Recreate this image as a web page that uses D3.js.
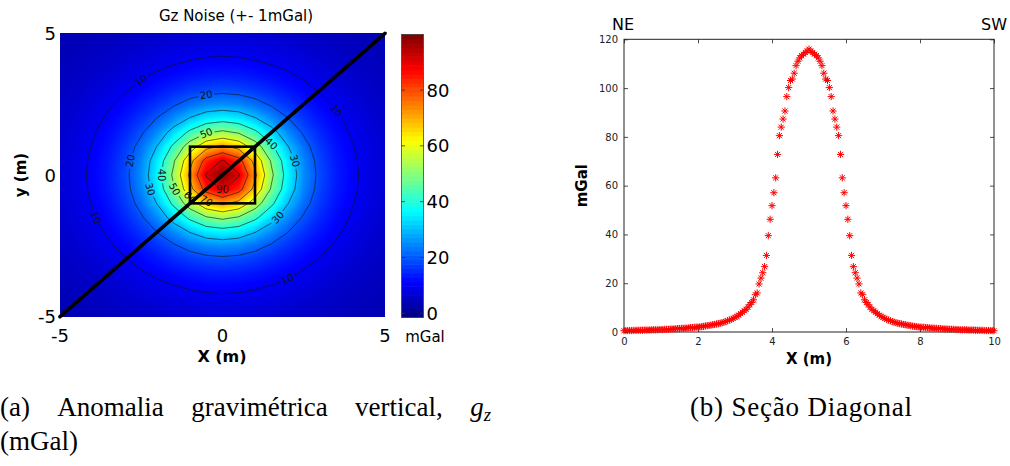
<!DOCTYPE html>
<html>
<head>
<meta charset="utf-8">
<script src="https://cdn.jsdelivr.net/npm/d3@7"></script>
<style>
  body { margin: 0; background: #fff; }
  svg { display: block; }
  .sans { font-family: "DejaVu Sans", sans-serif; }
  .serif { font-family: "Liberation Serif", "Times New Roman", serif; }
</style>
</head>
<body>
<svg id="fig" width="1010" height="466"></svg>
<script>
// ---------------- data ----------------
// Gz grid (mGal), 0.5 m spacing; rows run from y = 5 (top) to y = -5, columns from x = -5 to 5
const gridX = d3.range(-5, 5.001, 0.5);
const gridY = d3.range(5, -5.001, -0.5);
const gzRows = [
  [3.6,4.0,4.3,4.7,5.1,5.5,6.0,6.3,6.6,6.8,6.9,6.8,6.6,6.3,6.0,5.5,5.1,4.7,4.3,4.0,3.6],
  [4.0,4.4,4.8,5.3,5.9,6.5,7.1,7.7,8.1,8.4,8.5,8.4,8.1,7.7,7.1,6.5,5.9,5.3,4.8,4.4,4.0],
  [4.3,4.8,5.4,6.1,6.9,7.8,8.7,9.5,10.2,10.7,10.9,10.7,10.2,9.5,8.7,7.8,6.9,6.1,5.4,4.8,4.3],
  [4.7,5.3,6.1,7.0,8.1,9.4,10.7,11.8,12.8,13.5,13.8,13.5,12.8,11.8,10.7,9.4,8.1,7.0,6.1,5.3,4.7],
  [5.1,5.9,6.9,8.1,9.6,11.3,13.0,14.9,16.6,17.8,18.3,17.8,16.6,14.9,13.0,11.3,9.6,8.1,6.9,5.9,5.1],
  [5.5,6.5,7.8,9.4,11.3,13.5,16.2,19.2,22.2,24.4,25.2,24.4,22.2,19.2,16.2,13.5,11.3,9.4,7.8,6.5,5.5],
  [6.0,7.1,8.7,10.7,13.0,16.2,20.3,25.2,30.5,34.7,36.3,34.7,30.5,25.2,20.3,16.2,13.0,10.7,8.7,7.1,6.0],
  [6.3,7.7,9.5,11.8,14.9,19.2,25.2,33.2,41.9,49.1,52.0,49.1,41.9,33.2,25.2,19.2,14.9,11.8,9.5,7.7,6.3],
  [6.6,8.1,10.2,12.8,16.6,22.2,30.5,41.9,55.2,67.0,71.9,67.0,55.2,41.9,30.5,22.2,16.6,12.8,10.2,8.1,6.6],
  [6.8,8.4,10.7,13.5,17.8,24.4,34.7,49.1,67.0,83.6,90.8,83.6,67.0,49.1,34.7,24.4,17.8,13.5,10.7,8.4,6.8],
  [6.9,8.5,10.9,13.8,18.3,25.2,36.3,52.0,71.9,90.8,99.0,90.8,71.9,52.0,36.3,25.2,18.3,13.8,10.9,8.5,6.9],
  [6.8,8.4,10.7,13.5,17.8,24.4,34.7,49.1,67.0,83.6,90.8,83.6,67.0,49.1,34.7,24.4,17.8,13.5,10.7,8.4,6.8],
  [6.6,8.1,10.2,12.8,16.6,22.2,30.5,41.9,55.2,67.0,71.9,67.0,55.2,41.9,30.5,22.2,16.6,12.8,10.2,8.1,6.6],
  [6.3,7.7,9.5,11.8,14.9,19.2,25.2,33.2,41.9,49.1,52.0,49.1,41.9,33.2,25.2,19.2,14.9,11.8,9.5,7.7,6.3],
  [6.0,7.1,8.7,10.7,13.0,16.2,20.3,25.2,30.5,34.7,36.3,34.7,30.5,25.2,20.3,16.2,13.0,10.7,8.7,7.1,6.0],
  [5.5,6.5,7.8,9.4,11.3,13.5,16.2,19.2,22.2,24.4,25.2,24.4,22.2,19.2,16.2,13.5,11.3,9.4,7.8,6.5,5.5],
  [5.1,5.9,6.9,8.1,9.6,11.3,13.0,14.9,16.6,17.8,18.3,17.8,16.6,14.9,13.0,11.3,9.6,8.1,6.9,5.9,5.1],
  [4.7,5.3,6.1,7.0,8.1,9.4,10.7,11.8,12.8,13.5,13.8,13.5,12.8,11.8,10.7,9.4,8.1,7.0,6.1,5.3,4.7],
  [4.3,4.8,5.4,6.1,6.9,7.8,8.7,9.5,10.2,10.7,10.9,10.7,10.2,9.5,8.7,7.8,6.9,6.1,5.4,4.8,4.3],
  [4.0,4.4,4.8,5.3,5.9,6.5,7.1,7.7,8.1,8.4,8.5,8.4,8.1,7.7,7.1,6.5,5.9,5.3,4.8,4.4,4.0],
  [3.6,4.0,4.3,4.7,5.1,5.5,6.0,6.3,6.6,6.8,6.9,6.8,6.6,6.3,6.0,5.5,5.1,4.7,4.3,4.0,3.6]
];
const contourLevels = [10, 20, 30, 40, 50, 60, 70, 80, 90];
// contour label anchors: [level, x (m), y (m)]
const contourLabels = [
  [10, -2.49, 3.06], [20, -0.39, 2.74], [50, -0.49, 1.35], [40, 1.46, 1.06],
  [10, 3.31, 2.06], [20, -2.74, 0.35], [40, -1.82, 0.06], [30, -2.28, -0.47],
  [30, 2.13, 0.35], [50, -1.46, -0.65], [90, -0.03, -0.59], [70, -0.69, -1.12],
  [10, -3.67, -1.41], [30, 2.08, -2.06], [10, 2.13, -3.77], [60, -0.85, -0.5]
];
const colorLimits = [-1.5, 99.9];
const colorTicks = [0, 20, 40, 60, 80];
const mapTicks = [-5, 0, 5];
const sourceBox = [[-1, -1], [1, 1]];
const sectionLine = [[-5, -5], [5, 5]];

// diagonal section, 0.05 m sampling
const sectionX = d3.range(0, 10.0001, 0.05);
const sectionGz = [
  0.5,0.6,0.6,0.6,0.6,0.6,0.7,0.7,0.7,0.7,
  0.7,0.8,0.8,0.8,0.8,0.9,0.9,0.9,0.9,1.0,
  1.0,1.0,1.1,1.1,1.1,1.2,1.2,1.3,1.3,1.4,
  1.4,1.5,1.5,1.6,1.6,1.7,1.8,1.8,1.9,2.0,
  2.0,2.1,2.2,2.3,2.5,2.6,2.7,2.8,3.0,3.1,
  3.3,3.4,3.6,3.8,4.0,4.3,4.6,4.9,5.2,5.6,
  6.0,6.4,6.9,7.5,8.1,8.7,9.3,10.2,11.2,12.1,
  13.2,15.3,16.0,19.7,22.1,24.3,26.8,31.4,39.5,46.2,
  51.8,57.1,63.2,72.8,80.5,84.0,87.3,90.6,96.5,100.2,
  103.1,103.7,106.1,109.2,111.0,112.4,113.3,113.9,114.6,115.2,
  116.0,
  115.2,114.6,113.9,113.3,112.4,111.0,109.2,106.1,103.7,103.1,
  100.2,96.5,90.6,87.3,84.0,80.5,72.8,63.2,57.1,51.8,
  46.2,39.5,31.4,26.8,24.3,22.1,19.7,16.0,15.3,13.2,
  12.1,11.2,10.2,9.3,8.7,8.1,7.5,6.9,6.4,6.0,
  5.6,5.2,4.9,4.6,4.3,4.0,3.8,3.6,3.4,3.3,
  3.1,3.0,2.8,2.7,2.6,2.4,2.3,2.2,2.1,2.0,
  2.0,1.9,1.8,1.8,1.7,1.6,1.6,1.5,1.5,1.4,
  1.4,1.3,1.3,1.2,1.2,1.1,1.1,1.1,1.0,1.0,
  1.0,0.9,0.9,0.9,0.9,0.8,0.8,0.8,0.8,0.7,
  0.7,0.7,0.7,0.7,0.6,0.6,0.6,0.6,0.6,0.5
];
const sectionXTicks = [0, 2, 4, 6, 8, 10];
const sectionYTicks = [0, 20, 40, 60, 80, 100, 120];

// ---------------- helpers ----------------
function jet(t) {
  t = Math.max(0, Math.min(1, t));
  const c = v => Math.round(255 * Math.max(0, Math.min(1, v)));
  return `rgb(${c(1.5 - Math.abs(4 * t - 3))},${c(1.5 - Math.abs(4 * t - 2))},${c(1.5 - Math.abs(4 * t - 1))})`;
}

const svg = d3.select('#fig');

// ---------------- left panel: Gz map ----------------
const mapX = d3.scaleLinear().domain([-5, 5]).range([60, 385]);
const mapY = d3.scaleLinear().domain([-5, 5]).range([316.7, 33.3]);
const color = d3.scaleSequential(jet).domain(colorLimits);

const nx = gridX.length, ny = gridY.length;
const dxStep = gridX[1] - gridX[0], dyStep = gridY[0] - gridY[1];
const values = gzRows.flat();
const toMap = (u, v) => [mapX(gridX[0] + (u - 0.5) * dxStep), mapY(gridY[0] - (v - 0.5) * dyStep)];
const gridPath = d3.geoPath(d3.geoTransform({
  point(u, v) { const p = toMap(u, v); this.stream.point(p[0], p[1]); }
}));

const defs = svg.append('defs');
defs.append('clipPath').attr('id', 'mapClip').append('rect')
  .attr('x', mapX(-5)).attr('y', mapY(5))
  .attr('width', mapX(5) - mapX(-5)).attr('height', mapY(-5) - mapY(5));

const mapG = svg.append('g').attr('clip-path', 'url(#mapClip)');
const fillStep = 0.5;
const fillLevels = d3.range(colorLimits[0], colorLimits[1], fillStep);
const bands = d3.contours().size([nx, ny]).thresholds(fillLevels)(values);
mapG.selectAll('path.band').data(bands).join('path')
  .attr('class', 'band')
  .attr('d', gridPath)
  .attr('fill', d => color(d.value + fillStep / 2));

// contour lines with gaps under the labels
const lines = d3.contours().size([nx, ny]).thresholds(contourLevels)(values);
const labelFont = 10;
const labelInfo = contourLabels.map(([lev, lx, ly]) => {
  const geom = lines.find(c => c.value === lev);
  const tx = mapX(lx), ty = mapY(ly);
  let best = null;
  geom.coordinates.forEach(poly => poly.forEach(ring => {
    const pts = ring.map(p => toMap(p[0], p[1]));
    const n = pts.length - 1;
    for (let i = 0; i < n; i++) {
      const d = (pts[i][0] - tx) ** 2 + (pts[i][1] - ty) ** 2;
      if (!best || d < best.d) {
        const a = pts[(i - 1 + n) % n], b = pts[(i + 1) % n];
        best = { d, x: pts[i][0], y: pts[i][1], ang: Math.atan2(b[1] - a[1], b[0] - a[0]) * 180 / Math.PI };
      }
    }
  }));
  let ang = best.ang;
  if (ang > 90) ang -= 180;
  if (ang < -90) ang += 180;
  return { text: String(lev), x: best.x, y: best.y, ang };
});

const mask = defs.append('mask').attr('id', 'labelGaps');
mask.append('rect').attr('x', 0).attr('y', 0).attr('width', 1010).attr('height', 466).attr('fill', '#fff');
mask.selectAll('rect.gap').data(labelInfo).join('rect')
  .attr('class', 'gap')
  .attr('x', d => -d.text.length * 3.3 - 1.5).attr('y', -4.5)
  .attr('width', d => d.text.length * 6.6 + 3).attr('height', 9)
  .attr('transform', d => `translate(${d.x},${d.y}) rotate(${d.ang})`)
  .attr('fill', '#000');

mapG.append('g').attr('mask', 'url(#labelGaps)')
  .selectAll('path.iso').data(lines).join('path')
  .attr('class', 'iso')
  .attr('d', gridPath)
  .attr('fill', 'none')
  .attr('stroke', '#111')
  .attr('stroke-opacity', 0.85)
  .attr('stroke-width', 0.7);

mapG.selectAll('text.clabel').data(labelInfo).join('text')
  .attr('class', 'clabel sans')
  .attr('transform', d => `translate(${d.x},${d.y}) rotate(${d.ang})`)
  .attr('text-anchor', 'middle')
  .attr('dominant-baseline', 'central')
  .attr('font-size', labelFont)
  .attr('fill', '#111')
  .text(d => d.text);

// source outline and section trace
svg.append('rect')
  .attr('x', mapX(sourceBox[0][0])).attr('y', mapY(sourceBox[1][1]))
  .attr('width', mapX(sourceBox[1][0]) - mapX(sourceBox[0][0]))
  .attr('height', mapY(sourceBox[0][1]) - mapY(sourceBox[1][1]))
  .attr('fill', 'none').attr('stroke', '#000').attr('stroke-width', 2.6);
svg.append('line')
  .attr('x1', mapX(sectionLine[0][0])).attr('y1', mapY(sectionLine[0][1]))
  .attr('x2', mapX(sectionLine[1][0])).attr('y2', mapY(sectionLine[1][1]))
  .attr('stroke', '#000').attr('stroke-width', 3.6).attr('stroke-linecap', 'round');

// map axes text
svg.append('g').selectAll('text').data(mapTicks).join('text')
  .attr('class', 'sans').attr('font-size', 18).attr('fill', '#000')
  .attr('x', d => mapX(d)).attr('y', 342).attr('text-anchor', 'middle')
  .text(d => d);
svg.append('g').selectAll('text').data(mapTicks).join('text')
  .attr('class', 'sans').attr('font-size', 18).attr('fill', '#000')
  .attr('x', 56).attr('y', d => mapY(d)).attr('text-anchor', 'end')
  .attr('dominant-baseline', 'central')
  .text(d => d);
svg.append('text').attr('class', 'sans').attr('font-size', 15)
  .attr('x', 236).attr('y', 21).attr('text-anchor', 'middle').text('Gz Noise (+- 1mGal)');
svg.append('text').attr('class', 'sans').attr('font-size', 16).attr('font-weight', 'bold')
  .attr('x', 222).attr('y', 362).attr('text-anchor', 'middle').text('X (m)');
svg.append('text').attr('class', 'sans').attr('font-size', 15).attr('font-weight', 'bold')
  .attr('transform', `translate(26,${mapY(0)}) rotate(-90)`)
  .attr('text-anchor', 'middle').text('y (m)');

// colorbar
const cbX0 = 401.5, cbW = 22;
const cbY = d3.scaleLinear().domain(colorLimits).range([317.5, 34.5]);
const cbSteps = d3.range(64).map(k => colorLimits[0] + (colorLimits[1] - colorLimits[0]) * k / 64);
const cbStepH = (colorLimits[1] - colorLimits[0]) / 64;
svg.append('g').selectAll('rect').data(cbSteps).join('rect')
  .attr('x', cbX0).attr('width', cbW)
  .attr('y', d => cbY(d + cbStepH) - 0.3)
  .attr('height', d => cbY(d) - cbY(d + cbStepH) + 0.6)
  .attr('fill', d => color(d + cbStepH / 2));
svg.append('rect').attr('x', cbX0).attr('y', cbY(colorLimits[1]))
  .attr('width', cbW).attr('height', cbY(colorLimits[0]) - cbY(colorLimits[1]))
  .attr('fill', 'none').attr('stroke', '#444').attr('stroke-width', 0.8);
const cbTickG = svg.append('g');
cbTickG.selectAll('line.r').data(colorTicks).join('line')
  .attr('x1', cbX0 + cbW - 3.5).attr('x2', cbX0 + cbW)
  .attr('y1', d => cbY(d)).attr('y2', d => cbY(d))
  .attr('stroke', '#333').attr('stroke-width', 0.8);
cbTickG.selectAll('line.l').data(colorTicks).join('line')
  .attr('x1', cbX0).attr('x2', cbX0 + 3.5)
  .attr('y1', d => cbY(d)).attr('y2', d => cbY(d))
  .attr('stroke', '#333').attr('stroke-width', 0.8);
cbTickG.selectAll('text').data(colorTicks).join('text')
  .attr('class', 'sans').attr('font-size', 18).attr('fill', '#000')
  .attr('x', cbX0 + cbW + 3).attr('y', d => cbY(d))
  .attr('dominant-baseline', 'central')
  .text(d => d);
svg.append('text').attr('class', 'sans').attr('font-size', 15)
  .attr('x', 425).attr('y', 342).attr('text-anchor', 'middle').text('mGal');

// ---------------- right panel: diagonal section ----------------
const sx = d3.scaleLinear().domain([0, 10]).range([624, 994]);
const sy = d3.scaleLinear().domain([0, 120]).range([332, 39.3]);
const secG = svg.append('g');

const styleAxis = g => {
  g.select('.domain').remove();
  g.selectAll('.tick line').attr('stroke', '#222').attr('stroke-width', 0.8);
  g.selectAll('.tick text').attr('font-family', '"DejaVu Sans", sans-serif').attr('font-size', 10).attr('fill', '#222');
};
secG.append('g').attr('transform', `translate(0,${sy(0)})`)
  .call(d3.axisBottom(sx).tickValues(sectionXTicks).tickSize(-4).tickPadding(6).tickFormat(d3.format('d')))
  .call(styleAxis);
secG.append('g').attr('transform', `translate(0,${sy(120)})`)
  .call(d3.axisTop(sx).tickValues(sectionXTicks).tickSize(-4).tickFormat(''))
  .call(styleAxis);
secG.append('g').attr('transform', `translate(${sx(0)},0)`)
  .call(d3.axisLeft(sy).tickValues(sectionYTicks).tickSize(-4).tickPadding(6).tickFormat(d3.format('d')))
  .call(styleAxis);
secG.append('g').attr('transform', `translate(${sx(10)},0)`)
  .call(d3.axisRight(sy).tickValues(sectionYTicks).tickSize(-4).tickFormat(''))
  .call(styleAxis);
secG.append('rect')
  .attr('x', sx(0)).attr('y', sy(120))
  .attr('width', sx(10) - sx(0)).attr('height', sy(0) - sy(120))
  .attr('fill', 'none').attr('stroke', '#222').attr('stroke-width', 1);

// asterisk markers
const ar = 3.6, aa = ar * 0.7071;
const asterisk = `M${-ar},0H${ar}M0,${-ar}V${ar}M${-aa},${-aa}L${aa},${aa}M${-aa},${aa}L${aa},${-aa}`;
const sectionPts = sectionX.map((x, i) => ({ x, gz: sectionGz[i] }));
secG.append('g').selectAll('path').data(sectionPts).join('path')
  .attr('d', asterisk)
  .attr('transform', d => `translate(${sx(d.x)},${sy(d.gz)})`)
  .attr('fill', 'none').attr('stroke', '#f00').attr('stroke-width', 1);

secG.append('text').attr('class', 'sans').attr('font-size', 15).attr('font-weight', 'bold')
  .attr('x', (sx(0) + sx(10)) / 2).attr('y', 364).attr('text-anchor', 'middle').text('X (m)');
secG.append('text').attr('class', 'sans').attr('font-size', 15).attr('font-weight', 'bold')
  .attr('transform', `translate(587,${(sy(0) + sy(120)) / 2}) rotate(-90)`)
  .attr('text-anchor', 'middle').text('mGal');
secG.append('text').attr('class', 'sans').attr('font-size', 16)
  .attr('x', 612).attr('y', 30).text('NE');
secG.append('text').attr('class', 'sans').attr('font-size', 16)
  .attr('x', 1007).attr('y', 30).attr('text-anchor', 'end').text('SW');

// ---------------- captions ----------------
const capSize = 27;
function justifyLine(words, x0, x1, y) {
  const g = svg.append('g').attr('class', 'serif').attr('font-size', capSize).attr('fill', '#000');
  const nodes = words.map(w => {
    const t = g.append('text').attr('y', y);
    w.forEach(part => {
      const s = t.append('tspan').text(part.t);
      if (part.italic) s.attr('font-style', 'italic');
      if (part.sub) s.attr('font-size', capSize * 0.7).attr('dy', 5);
    });
    return t;
  });
  const widths = nodes.map(n => n.node().getComputedTextLength());
  const gap = words.length > 1 ? (x1 - x0 - d3.sum(widths)) / (words.length - 1) : 0;
  let x = x0;
  nodes.forEach((n, i) => { n.attr('x', x); x += widths[i] + gap; });
}
justifyLine([[{ t: '(a)' }], [{ t: 'Anomalia' }], [{ t: 'gravimétrica' }], [{ t: 'vertical,' }],
  [{ t: 'g', italic: true }, { t: 'z', italic: true, sub: true }]], 0, 491, 416);
svg.append('text').attr('class', 'serif').attr('font-size', capSize)
  .attr('x', 0).attr('y', 450).text('(mGal)');
svg.append('text').attr('class', 'serif').attr('font-size', capSize)
  .attr('x', 690).attr('y', 416).attr('textLength', 222).attr('lengthAdjust', 'spacing')
  .text('(b) Seção Diagonal');
</script>
</body>
</html>
